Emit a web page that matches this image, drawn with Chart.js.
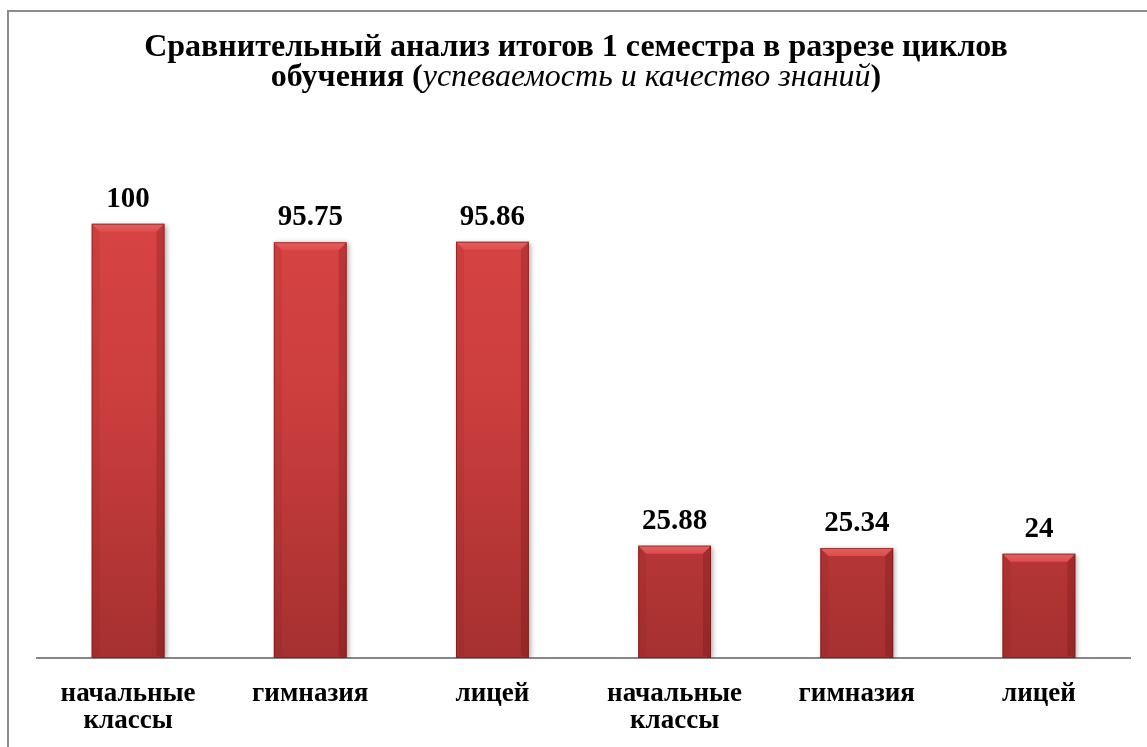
<!DOCTYPE html>
<html>
<head>
<meta charset="utf-8">
<script src="https://cdn.jsdelivr.net/npm/chart.js@4.4.0/dist/chart.umd.min.js"></script>
<style>
  html, body { margin: 0; padding: 0; background: #ffffff; }
  #wrap { position: relative; width: 1147px; height: 747px; }
  canvas { display: block; }
</style>
</head>
<body>
<div id="wrap"><canvas id="c" width="1147" height="747"></canvas></div>
<script>
const categories = [["начальные", "классы"], "гимназия", "лицей", ["начальные", "классы"], "гимназия", "лицей"];
const values = [100, 95.75, 95.86, 25.88, 25.34, 24];
const valueLabels = ["100", "95.75", "95.86", "25.88", "25.34", "24"];
const titleLine1 = "Сравнительный анализ итогов 1 семестра в разрезе циклов";
const titleLine2 = [
  { text: "обучения (", italic: false },
  { text: "успеваемость и качество знаний", italic: true },
  { text: ")", italic: false }
];

const SERIF = '"Liberation Serif", "Times New Roman", serif';

function barGradient(context) {
  const chart = context.chart;
  const area = chart.chartArea;
  if (!area) return '#cc3f3f';
  const el = context.element;
  const top = el && el.y !== undefined ? el.y : area.top;
  const bottom = area.bottom;
  const g = chart.ctx.createLinearGradient(0, top, 0, bottom);
  g.addColorStop(0, '#dc4646');
  g.addColorStop(0.5, '#cc3e3e');
  g.addColorStop(1, '#a63030');
  return g;
}

const framePlugin = {
  id: 'frame',
  beforeDraw(chart) {
    const ctx = chart.ctx;
    ctx.save();
    ctx.fillStyle = '#ffffff';
    ctx.fillRect(0, 0, chart.width, chart.height);
    ctx.strokeStyle = '#8c8c8c';
    ctx.lineWidth = 2;
    ctx.beginPath();
    ctx.moveTo(8, chart.height);
    ctx.lineTo(8, 11);
    ctx.lineTo(chart.width, 11);
    ctx.stroke();
    ctx.restore();
  }
};

const titlePlugin = {
  id: 'mixedTitle',
  afterDraw(chart) {
    const ctx = chart.ctx;
    const cx = 576;
    ctx.save();
    ctx.fillStyle = '#000000';
    ctx.textBaseline = 'alphabetic';
    ctx.textAlign = 'left';
    const bold = 'bold 32px ' + SERIF;
    const ital = 'italic 32px ' + SERIF;
    ctx.font = bold;
    const w1 = ctx.measureText(titleLine1).width;
    ctx.fillText(titleLine1, cx - w1 / 2, 56);
    let total = 0;
    const widths = titleLine2.map(s => {
      ctx.font = s.italic ? ital : bold;
      const w = ctx.measureText(s.text).width;
      total += w;
      return w;
    });
    let x = cx - total / 2;
    titleLine2.forEach((s, i) => {
      ctx.font = s.italic ? ital : bold;
      ctx.fillText(s.text, x, 86);
      x += widths[i];
    });
    ctx.restore();
  }
};

const shadowPlugin = {
  id: 'barShadow',
  beforeDatasetDraw(chart) {
    const ctx = chart.ctx;
    ctx.save();
    ctx.shadowColor = 'rgba(0,0,0,0.35)';
    ctx.shadowBlur = 5;
    ctx.shadowOffsetX = 2;
    ctx.shadowOffsetY = 1;
  },
  afterDatasetDraw(chart) {
    chart.ctx.restore();
  }
};

const bevelPlugin = {
  id: 'bevel',
  afterDatasetsDraw(chart) {
    const ctx = chart.ctx;
    const meta = chart.getDatasetMeta(0);
    ctx.save();
    meta.data.forEach((bar, i) => {
      const p = bar.getProps(['x', 'y', 'base', 'width'], true);
      const l = p.x - p.width / 2, r = p.x + p.width / 2;
      const t = p.y, b = p.base;
      const bv = 8;
      const tg = ctx.createLinearGradient(0, t, 0, t + bv);
      tg.addColorStop(0, '#e56060');
      tg.addColorStop(1, '#de4c4c');
      ctx.fillStyle = tg;
      ctx.beginPath();
      ctx.moveTo(l, t); ctx.lineTo(r, t); ctx.lineTo(r - bv, t + bv); ctx.lineTo(l + bv, t + bv); ctx.closePath();
      ctx.fill();
      ctx.fillStyle = 'rgba(120,20,20,0.10)';
      ctx.beginPath();
      ctx.moveTo(l, t); ctx.lineTo(l + bv, t + bv); ctx.lineTo(l + bv, b - 3); ctx.lineTo(l, b); ctx.closePath();
      ctx.fill();
      ctx.fillStyle = 'rgba(90,10,10,0.22)';
      ctx.beginPath();
      ctx.moveTo(r, t); ctx.lineTo(r - bv, t + bv); ctx.lineTo(r - bv, b - 3); ctx.lineTo(r, b); ctx.closePath();
      ctx.fill();
      ctx.strokeStyle = 'rgba(110,20,20,0.55)';
      ctx.lineWidth = 1;
      ctx.strokeRect(l + 0.5, t + 0.5, p.width - 1, b - t - 1);
      ctx.fillStyle = '#000000';
      ctx.font = 'bold 29px ' + SERIF;
      ctx.textAlign = 'center';
      ctx.textBaseline = 'alphabetic';
      ctx.fillText(valueLabels[i], p.x, t - 17);
    });
    ctx.restore();
  }
};

new Chart(document.getElementById('c'), {
  type: 'bar',
  data: {
    labels: categories,
    datasets: [{
      data: values,
      backgroundColor: barGradient,
      borderWidth: 0,
      barPercentage: 0.4,
      categoryPercentage: 1.0
    }]
  },
  options: {
    responsive: false,
    animation: false,
    layout: { padding: { left: 37, right: 17, top: 137, bottom: -11 } },
    plugins: {
      legend: { display: false },
      title: { display: false },
      tooltip: { enabled: false }
    },
    scales: {
      y: { display: false, min: 0, max: 120 },
      x: {
        grid: { display: false, drawTicks: false },
        border: { display: true, color: '#868686', width: 2 },
        ticks: {
          color: '#000000',
          padding: 23,
          maxRotation: 0,
          autoSkip: false,
          font: { family: SERIF, size: 27, weight: 'bold', lineHeight: '27px' }
        }
      }
    }
  },
  plugins: [framePlugin, shadowPlugin, bevelPlugin, titlePlugin]
});
</script>
</body>
</html>
